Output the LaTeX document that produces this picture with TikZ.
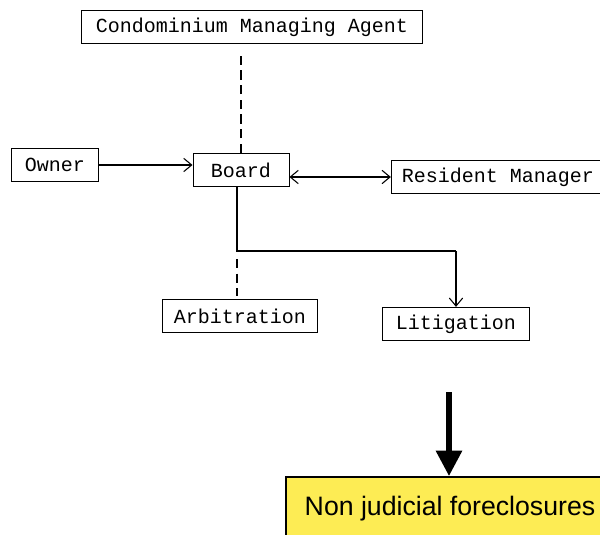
\documentclass[tikz,border=0pt]{standalone}
\usepackage{fontspec}
\newfontfamily\typed{Liberation Mono}
\newfontfamily\plain{Liberation Sans}
\usetikzlibrary{arrows.meta}
\definecolor{noteyellow}{RGB}{253,236,84}

\tikzset{
	box/.style={draw, line width=0.7pt, font=\typed\fontsize{15}{18}\selectfont,
		minimum height=25pt, inner xsep=8pt, inner ysep=3pt},
	link/.style={line width=0.8pt},
	loose/.style={link, dash pattern=on 7pt off 4pt},
}

\begin{document}
\begin{tikzpicture}[>={Straight Barb[length=6pt,width=10pt]}, x=0.75pt, y=-0.75pt]
		\clip (0,0) rectangle (600,535);
		\fill[white] (0,0) rectangle (600,535);

		\node[box, minimum width=256pt] (condo) at (252,27) {Condominium Managing Agent};
		\node[box, minimum width=65pt] (owner) at (55,165) {Owner};
		\node[box, minimum width=72pt] (board) at (241,170) {Board};
		\node[box, minimum width=155pt] (resman) at (498,177) {Resident Manager};
		\node[box, minimum width=116pt] (arb) at (240,316) {Arbitration};
		\node[box, minimum width=110pt] (lit) at (456,324) {Litigation};

		\draw[loose] (board.north) -- ([yshift=-6]board.north |- condo.south);
		\draw[link, ->] (owner) -- (board.west |- owner);
		\draw[link, <->] (board.east |- resman) -- (resman);

		\coordinate (split) at (237,251);
		\draw[link] (board.south -| split) -- (split) -- (split -| lit.north);
		\draw[link, ->] (split -| lit.north) -- (lit.north);
		\draw[loose] ([yshift=-6]split) -- ([yshift=2]split |- arb.north);

		\node[draw, line width=1.5pt, fill=noteyellow, anchor=north west, font=\plain\fontsize{20}{24}\selectfont,
			minimum width=246pt, minimum height=48pt, inner xsep=8pt] (fc) at (285,476) {Non judicial foreclosures};
		\coordinate (drop) at (449,392);
		\draw[line width=3.8pt, -{Triangle[length=19pt,width=19pt]}] (drop) -- (drop |- fc.north);
	\end{tikzpicture}
\end{document}
